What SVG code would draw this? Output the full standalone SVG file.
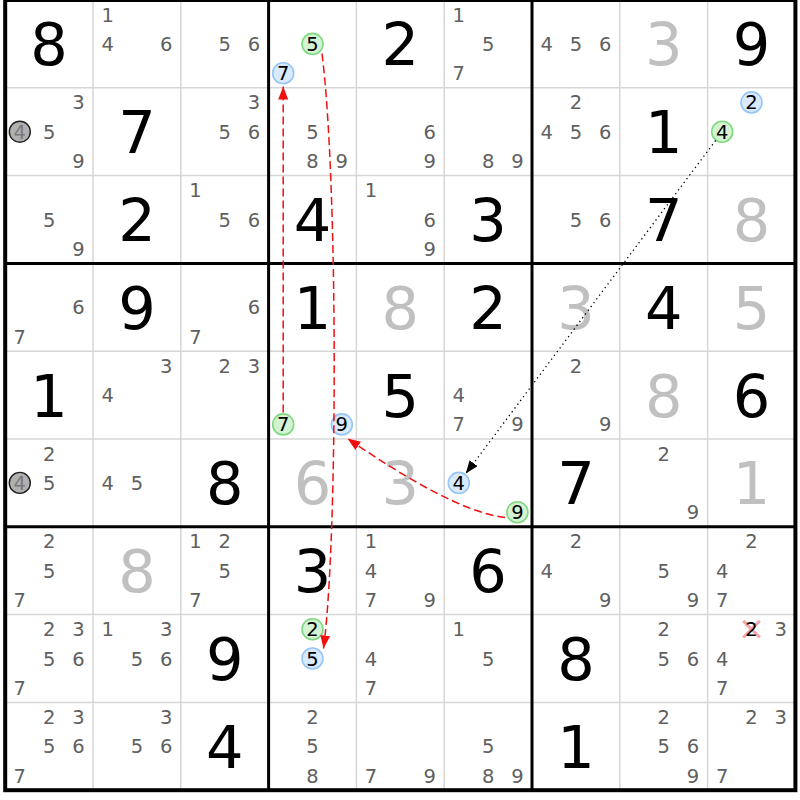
<svg xmlns="http://www.w3.org/2000/svg" width="800" height="800" viewBox="0 0 800 800">
<defs>
<style>
text{font-family:"DejaVu Sans",Verdana,sans-serif;text-anchor:middle}
.g{font-size:59px;fill:#000}
.s{font-size:59px;fill:#c0c0c0}
.c{font-size:19.5px;fill:#606060}
.k{font-size:19.5px;fill:#000}
.q{font-size:19.5px;fill:#7a7a7a}
.gr{fill:#d3f3d3;stroke:#80d880;stroke-width:1.6}
.bl{fill:#d8eaff;stroke:#98c6f4;stroke-width:1.6}
.gy{fill:#b0b0b0;stroke:#202020;stroke-width:1.4}
.thin{stroke:#d6d6d6;stroke-width:1.5}
.thick{stroke:#000;stroke-width:3}
.red{fill:none;stroke:#f01010;stroke-width:1.5;stroke-dasharray:8 4}
.dot{fill:none;stroke:#000;stroke-width:1.3;stroke-dasharray:1.3 3.4}
</style>
<marker id="ar" markerUnits="userSpaceOnUse" markerWidth="13" markerHeight="10" refX="13" refY="5" orient="auto"><path d="M0,0 L13,5 L0,10 z" fill="#f01010"/></marker>
<marker id="ab" markerUnits="userSpaceOnUse" markerWidth="13" markerHeight="10" refX="13" refY="5" orient="auto"><path d="M0,0 L13,5 L0,10 z" fill="#000"/></marker>
</defs>
<rect x="0" y="0" width="800" height="800" fill="#fff"/>
<g id="grid">
<path class="thin" d="M93,0V790.2M180.8,0V790.2M356.4,0V790.2M444.2,0V790.2M619.8,0V790.2M707.6,0V790.2M5.2,87.8H795.4M5.2,175.6H795.4M5.2,351.2H795.4M5.2,439H795.4M5.2,614.6H795.4M5.2,702.4H795.4"/>
<path class="thick" d="M268.6,0V790.2M532,0V790.2M5.2,263.4H795.4M5.2,526.8H795.4"/>
<rect x="5.2" y="0" width="790.2" height="790.2" fill="none" stroke="#000" stroke-width="4"/>
</g>
<!-- Row 1 -->
<g id="r1c1" transform="translate(5.2,0)"><text class="g" x="43.9" y="65.4">8</text></g>
<g id="r1c2" transform="translate(93,0)"><text class="c" x="14.6" y="21.7">1</text><text class="c" x="14.6" y="51">4</text><text class="c" x="73.2" y="51">6</text></g>
<g id="r1c3" transform="translate(180.8,0)"><text class="c" x="43.9" y="51">5</text><text class="c" x="73.2" y="51">6</text></g>
<g id="r1c4" transform="translate(268.6,0)"><circle class="gr" cx="43.9" cy="43.9" r="10.5"/><text class="k" x="43.9" y="51">5</text><circle class="bl" cx="14.6" cy="73.2" r="10.5"/><text class="k" x="14.6" y="80.3">7</text></g>
<g id="r1c5" transform="translate(356.4,0)"><text class="g" x="43.9" y="65.4">2</text></g>
<g id="r1c6" transform="translate(444.2,0)"><text class="c" x="14.6" y="21.7">1</text><text class="c" x="43.9" y="51">5</text><text class="c" x="14.6" y="80.3">7</text></g>
<g id="r1c7" transform="translate(532,0)"><text class="c" x="14.6" y="51">4</text><text class="c" x="43.9" y="51">5</text><text class="c" x="73.2" y="51">6</text></g>
<g id="r1c8" transform="translate(619.8,0)"><text class="s" x="43.9" y="65.4">3</text></g>
<g id="r1c9" transform="translate(707.6,0)"><text class="g" x="43.9" y="65.4">9</text></g>
<!-- Row 2 -->
<g id="r2c1" transform="translate(5.2,87.8)"><text class="c" x="73.2" y="21.7">3</text><circle class="gy" cx="14.6" cy="43.9" r="10.5"/><text class="q" x="14.6" y="51">4</text><text class="c" x="43.9" y="51">5</text><text class="c" x="73.2" y="80.3">9</text></g>
<g id="r2c2" transform="translate(93,87.8)"><text class="g" x="43.9" y="65.4">7</text></g>
<g id="r2c3" transform="translate(180.8,87.8)"><text class="c" x="73.2" y="21.7">3</text><text class="c" x="43.9" y="51">5</text><text class="c" x="73.2" y="51">6</text></g>
<g id="r2c4" transform="translate(268.6,87.8)"><text class="c" x="43.9" y="51">5</text><text class="c" x="43.9" y="80.3">8</text><text class="c" x="73.2" y="80.3">9</text></g>
<g id="r2c5" transform="translate(356.4,87.8)"><text class="c" x="73.2" y="51">6</text><text class="c" x="73.2" y="80.3">9</text></g>
<g id="r2c6" transform="translate(444.2,87.8)"><text class="c" x="43.9" y="80.3">8</text><text class="c" x="73.2" y="80.3">9</text></g>
<g id="r2c7" transform="translate(532,87.8)"><text class="c" x="43.9" y="21.7">2</text><text class="c" x="14.6" y="51">4</text><text class="c" x="43.9" y="51">5</text><text class="c" x="73.2" y="51">6</text></g>
<g id="r2c8" transform="translate(619.8,87.8)"><text class="g" x="43.9" y="65.4">1</text></g>
<g id="r2c9" transform="translate(707.6,87.8)"><circle class="bl" cx="43.9" cy="14.6" r="10.5"/><text class="k" x="43.9" y="21.7">2</text><circle class="gr" cx="14.6" cy="43.9" r="10.5"/><text class="k" x="14.6" y="51">4</text></g>
<!-- Row 3 -->
<g id="r3c1" transform="translate(5.2,175.6)"><text class="c" x="43.9" y="51">5</text><text class="c" x="73.2" y="80.3">9</text></g>
<g id="r3c2" transform="translate(93,175.6)"><text class="g" x="43.9" y="65.4">2</text></g>
<g id="r3c3" transform="translate(180.8,175.6)"><text class="c" x="14.6" y="21.7">1</text><text class="c" x="43.9" y="51">5</text><text class="c" x="73.2" y="51">6</text></g>
<g id="r3c4" transform="translate(268.6,175.6)"><text class="g" x="43.9" y="65.4">4</text></g>
<g id="r3c5" transform="translate(356.4,175.6)"><text class="c" x="14.6" y="21.7">1</text><text class="c" x="73.2" y="51">6</text><text class="c" x="73.2" y="80.3">9</text></g>
<g id="r3c6" transform="translate(444.2,175.6)"><text class="g" x="43.9" y="65.4">3</text></g>
<g id="r3c7" transform="translate(532,175.6)"><text class="c" x="43.9" y="51">5</text><text class="c" x="73.2" y="51">6</text></g>
<g id="r3c8" transform="translate(619.8,175.6)"><text class="g" x="43.9" y="65.4">7</text></g>
<g id="r3c9" transform="translate(707.6,175.6)"><text class="s" x="43.9" y="65.4">8</text></g>
<!-- Row 4 -->
<g id="r4c1" transform="translate(5.2,263.4)"><text class="c" x="73.2" y="51">6</text><text class="c" x="14.6" y="80.3">7</text></g>
<g id="r4c2" transform="translate(93,263.4)"><text class="g" x="43.9" y="65.4">9</text></g>
<g id="r4c3" transform="translate(180.8,263.4)"><text class="c" x="73.2" y="51">6</text><text class="c" x="14.6" y="80.3">7</text></g>
<g id="r4c4" transform="translate(268.6,263.4)"><text class="g" x="43.9" y="65.4">1</text></g>
<g id="r4c5" transform="translate(356.4,263.4)"><text class="s" x="43.9" y="65.4">8</text></g>
<g id="r4c6" transform="translate(444.2,263.4)"><text class="g" x="43.9" y="65.4">2</text></g>
<g id="r4c7" transform="translate(532,263.4)"><text class="s" x="43.9" y="65.4">3</text></g>
<g id="r4c8" transform="translate(619.8,263.4)"><text class="g" x="43.9" y="65.4">4</text></g>
<g id="r4c9" transform="translate(707.6,263.4)"><text class="s" x="43.9" y="65.4">5</text></g>
<!-- Row 5 -->
<g id="r5c1" transform="translate(5.2,351.2)"><text class="g" x="43.9" y="65.4">1</text></g>
<g id="r5c2" transform="translate(93,351.2)"><text class="c" x="73.2" y="21.7">3</text><text class="c" x="14.6" y="51">4</text></g>
<g id="r5c3" transform="translate(180.8,351.2)"><text class="c" x="43.9" y="21.7">2</text><text class="c" x="73.2" y="21.7">3</text></g>
<g id="r5c4" transform="translate(268.6,351.2)"><circle class="gr" cx="14.6" cy="73.2" r="10.5"/><text class="k" x="14.6" y="80.3">7</text><circle class="bl" cx="73.2" cy="73.2" r="10.5"/><text class="k" x="73.2" y="80.3">9</text></g>
<g id="r5c5" transform="translate(356.4,351.2)"><text class="g" x="43.9" y="65.4">5</text></g>
<g id="r5c6" transform="translate(444.2,351.2)"><text class="c" x="14.6" y="51">4</text><text class="c" x="14.6" y="80.3">7</text><text class="c" x="73.2" y="80.3">9</text></g>
<g id="r5c7" transform="translate(532,351.2)"><text class="c" x="43.9" y="21.7">2</text><text class="c" x="73.2" y="80.3">9</text></g>
<g id="r5c8" transform="translate(619.8,351.2)"><text class="s" x="43.9" y="65.4">8</text></g>
<g id="r5c9" transform="translate(707.6,351.2)"><text class="g" x="43.9" y="65.4">6</text></g>
<!-- Row 6 -->
<g id="r6c1" transform="translate(5.2,439)"><text class="c" x="43.9" y="21.7">2</text><circle class="gy" cx="14.6" cy="43.9" r="10.5"/><text class="q" x="14.6" y="51">4</text><text class="c" x="43.9" y="51">5</text></g>
<g id="r6c2" transform="translate(93,439)"><text class="c" x="14.6" y="51">4</text><text class="c" x="43.9" y="51">5</text></g>
<g id="r6c3" transform="translate(180.8,439)"><text class="g" x="43.9" y="65.4">8</text></g>
<g id="r6c4" transform="translate(268.6,439)"><text class="s" x="43.9" y="65.4">6</text></g>
<g id="r6c5" transform="translate(356.4,439)"><text class="s" x="43.9" y="65.4">3</text></g>
<g id="r6c6" transform="translate(444.2,439)"><circle class="bl" cx="14.6" cy="43.9" r="10.5"/><text class="k" x="14.6" y="51">4</text><circle class="gr" cx="73.2" cy="73.2" r="10.5"/><text class="k" x="73.2" y="80.3">9</text></g>
<g id="r6c7" transform="translate(532,439)"><text class="g" x="43.9" y="65.4">7</text></g>
<g id="r6c8" transform="translate(619.8,439)"><text class="c" x="43.9" y="21.7">2</text><text class="c" x="73.2" y="80.3">9</text></g>
<g id="r6c9" transform="translate(707.6,439)"><text class="s" x="43.9" y="65.4">1</text></g>
<!-- Row 7 -->
<g id="r7c1" transform="translate(5.2,526.8)"><text class="c" x="43.9" y="21.7">2</text><text class="c" x="43.9" y="51">5</text><text class="c" x="14.6" y="80.3">7</text></g>
<g id="r7c2" transform="translate(93,526.8)"><text class="s" x="43.9" y="65.4">8</text></g>
<g id="r7c3" transform="translate(180.8,526.8)"><text class="c" x="14.6" y="21.7">1</text><text class="c" x="43.9" y="21.7">2</text><text class="c" x="43.9" y="51">5</text><text class="c" x="14.6" y="80.3">7</text></g>
<g id="r7c4" transform="translate(268.6,526.8)"><text class="g" x="43.9" y="65.4">3</text></g>
<g id="r7c5" transform="translate(356.4,526.8)"><text class="c" x="14.6" y="21.7">1</text><text class="c" x="14.6" y="51">4</text><text class="c" x="14.6" y="80.3">7</text><text class="c" x="73.2" y="80.3">9</text></g>
<g id="r7c6" transform="translate(444.2,526.8)"><text class="g" x="43.9" y="65.4">6</text></g>
<g id="r7c7" transform="translate(532,526.8)"><text class="c" x="43.9" y="21.7">2</text><text class="c" x="14.6" y="51">4</text><text class="c" x="73.2" y="80.3">9</text></g>
<g id="r7c8" transform="translate(619.8,526.8)"><text class="c" x="43.9" y="51">5</text><text class="c" x="73.2" y="80.3">9</text></g>
<g id="r7c9" transform="translate(707.6,526.8)"><text class="c" x="43.9" y="21.7">2</text><text class="c" x="14.6" y="51">4</text><text class="c" x="14.6" y="80.3">7</text></g>
<!-- Row 8 -->
<g id="r8c1" transform="translate(5.2,614.6)"><text class="c" x="43.9" y="21.7">2</text><text class="c" x="73.2" y="21.7">3</text><text class="c" x="43.9" y="51">5</text><text class="c" x="73.2" y="51">6</text><text class="c" x="14.6" y="80.3">7</text></g>
<g id="r8c2" transform="translate(93,614.6)"><text class="c" x="14.6" y="21.7">1</text><text class="c" x="73.2" y="21.7">3</text><text class="c" x="43.9" y="51">5</text><text class="c" x="73.2" y="51">6</text></g>
<g id="r8c3" transform="translate(180.8,614.6)"><text class="g" x="43.9" y="65.4">9</text></g>
<g id="r8c4" transform="translate(268.6,614.6)"><circle class="gr" cx="43.9" cy="14.6" r="10.5"/><text class="k" x="43.9" y="21.7">2</text><circle class="bl" cx="43.9" cy="43.9" r="10.5"/><text class="k" x="43.9" y="51">5</text></g>
<g id="r8c5" transform="translate(356.4,614.6)"><text class="c" x="14.6" y="51">4</text><text class="c" x="14.6" y="80.3">7</text></g>
<g id="r8c6" transform="translate(444.2,614.6)"><text class="c" x="14.6" y="21.7">1</text><text class="c" x="43.9" y="51">5</text></g>
<g id="r8c7" transform="translate(532,614.6)"><text class="g" x="43.9" y="65.4">8</text></g>
<g id="r8c8" transform="translate(619.8,614.6)"><text class="c" x="43.9" y="21.7">2</text><text class="c" x="43.9" y="51">5</text><text class="c" x="73.2" y="51">6</text></g>
<g id="r8c9" transform="translate(707.6,614.6)"><path d="M35.6,6.3L52.2,22.9M35.6,22.9L52.2,6.3" stroke="#f4a4ac" stroke-width="3" fill="none"/><text class="k" x="43.9" y="21.7">2</text><text class="c" x="73.2" y="21.7">3</text><text class="c" x="14.6" y="51">4</text><text class="c" x="14.6" y="80.3">7</text></g>
<!-- Row 9 -->
<g id="r9c1" transform="translate(5.2,702.4)"><text class="c" x="43.9" y="21.7">2</text><text class="c" x="73.2" y="21.7">3</text><text class="c" x="43.9" y="51">5</text><text class="c" x="73.2" y="51">6</text><text class="c" x="14.6" y="80.3">7</text></g>
<g id="r9c2" transform="translate(93,702.4)"><text class="c" x="73.2" y="21.7">3</text><text class="c" x="43.9" y="51">5</text><text class="c" x="73.2" y="51">6</text></g>
<g id="r9c3" transform="translate(180.8,702.4)"><text class="g" x="43.9" y="65.4">4</text></g>
<g id="r9c4" transform="translate(268.6,702.4)"><text class="c" x="43.9" y="21.7">2</text><text class="c" x="43.9" y="51">5</text><text class="c" x="43.9" y="80.3">8</text></g>
<g id="r9c5" transform="translate(356.4,702.4)"><text class="c" x="14.6" y="80.3">7</text><text class="c" x="73.2" y="80.3">9</text></g>
<g id="r9c6" transform="translate(444.2,702.4)"><text class="c" x="43.9" y="51">5</text><text class="c" x="43.9" y="80.3">8</text><text class="c" x="73.2" y="80.3">9</text></g>
<g id="r9c7" transform="translate(532,702.4)"><text class="g" x="43.9" y="65.4">1</text></g>
<g id="r9c8" transform="translate(619.8,702.4)"><text class="c" x="43.9" y="21.7">2</text><text class="c" x="43.9" y="51">5</text><text class="c" x="73.2" y="51">6</text><text class="c" x="73.2" y="80.3">9</text></g>
<g id="r9c9" transform="translate(707.6,702.4)"><text class="c" x="43.9" y="21.7">2</text><text class="c" x="73.2" y="21.7">3</text><text class="c" x="14.6" y="80.3">7</text></g>
<g id="connectors">
<path class="red" d="M283.2,412.5L283.2,86.5" marker-end="url(#ar)"/>
<path class="red" d="M322,53.5C338,180 338,540 323.5,648.5" marker-end="url(#ar)"/>
<path class="red" d="M505,517.5C465,513 405,478 347.5,438.5" marker-end="url(#ar)"/>
<path class="dot" d="M715.6,140.5L465.8,473.6" marker-end="url(#ab)"/>
</g>
</svg>
